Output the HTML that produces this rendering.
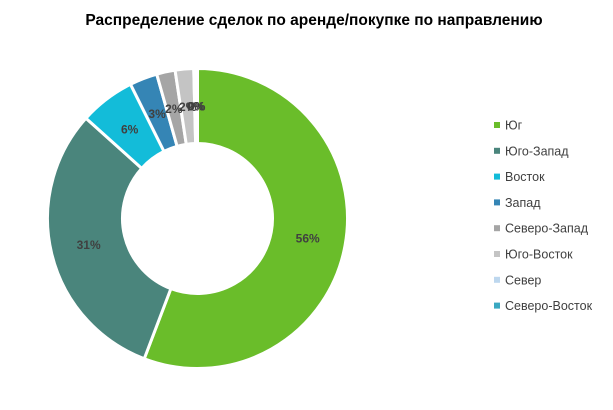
<!DOCTYPE html>
<html><head><meta charset="utf-8"><style>
body{margin:0;background:#fff;font-family:"Liberation Sans",sans-serif;}
svg text{font-family:"Liberation Sans",sans-serif;}
</style></head><body>
<svg width="613" height="405">
<text x="314" y="25" text-anchor="middle" font-size="15.5" font-weight="bold" fill="#000">Распределение сделок по аренде/покупке по направлению</text>
<g id="slices"></g><g id="labels"></g><g id="legend"></g>
</svg>
<script>
const categories=["Юг","Юго-Запад","Восток","Запад","Северо-Запад","Юго-Восток","Север","Северо-Восток"];
const values=[56,31,6,3,2,2,0.2,0.2];
const valueLabels=["56%","31%","6%","3%","2%","2%","0%","0%"];
const colors=["#6abd2a","#4a857c","#13bcd9","#3585b5","#a5a5a5","#c4c4c4","#bdd7ee","#3aa8c1"];
const NS="http://www.w3.org/2000/svg";
const cx=197.5,cy=218.5,R=150,r=75;
const total=values.reduce((a,b)=>a+b,0);
function pt(rad,ang){return [cx+rad*Math.sin(ang),cy-rad*Math.cos(ang)];}
let a=0;
const sg=document.getElementById('slices'),lg=document.getElementById('labels'),leg=document.getElementById('legend');
values.forEach((v,i)=>{
 const a1=a+v/total*2*Math.PI;
 const large=(a1-a)>Math.PI?1:0;
 const [x0,y0]=pt(R,a),[x1,y1]=pt(R,a1),[x2,y2]=pt(r,a1),[x3,y3]=pt(r,a);
 const p=document.createElementNS(NS,'path');
 p.setAttribute('d',`M${x0},${y0}A${R},${R} 0 ${large} 1 ${x1},${y1}L${x2},${y2}A${r},${r} 0 ${large} 0 ${x3},${y3}Z`);
 p.setAttribute('fill',colors[i]);p.setAttribute('stroke','#fff');p.setAttribute('stroke-width','3');
 
 
 sg.appendChild(p);
 const [lx,ly]=pt(112,(a+a1)/2);
 const t=document.createElementNS(NS,'text');
 t.setAttribute('x',lx);t.setAttribute('y',ly+4);t.setAttribute('text-anchor','middle');
 t.setAttribute('font-size','12');t.setAttribute('font-weight','bold');t.setAttribute('fill','#404040');
 t.textContent=valueLabels[i];
 
 
 lg.appendChild(t);
 a=a1;
 const y=125+i*25.8;
 const m=document.createElementNS(NS,'rect');
 m.setAttribute('x',494);m.setAttribute('y',y-3);m.setAttribute('width',6);m.setAttribute('height',6);m.setAttribute('fill',colors[i]);
 
 
 leg.appendChild(m);
 const lt=document.createElementNS(NS,'text');
 lt.setAttribute('x',505);lt.setAttribute('y',y+4.5);lt.setAttribute('font-size','12.5');lt.setAttribute('fill','#404040');
 lt.textContent=categories[i];
 
 
 leg.appendChild(lt);
});
</script>
</body></html>
